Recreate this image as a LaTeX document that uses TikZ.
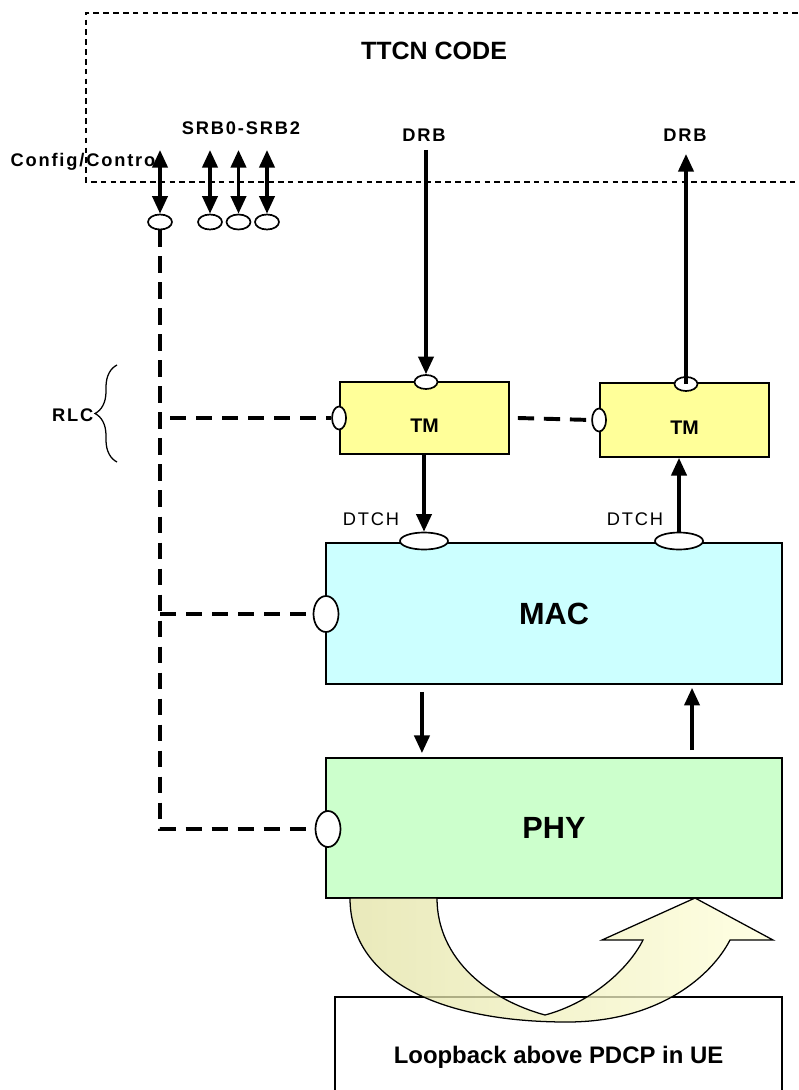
\documentclass[tikz,border=0pt]{standalone}
\usepackage{fontspec}
\setmainfont{Liberation Sans}
\newfontfamily\spacedfont{Liberation Sans}[LetterSpace=10]
\usetikzlibrary{positioning,arrows.meta,shapes.geometric,decorations.pathreplacing}

\definecolor{tmyellow}{RGB}{255,255,153}
\definecolor{maccyan}{RGB}{204,255,255}
\definecolor{phygreen}{RGB}{204,255,204}
\definecolor{loopdark}{RGB}{226,226,164}
\definecolor{looplight}{RGB}{255,255,218}

\begin{document}
\begin{tikzpicture}[
    x=0.025cm, y=-0.025cm,
    tag/.style={font=\spacedfont\bfseries\fontsize{13}{15}\selectfont, inner sep=1pt},
    chan/.style={font=\spacedfont\fontsize{13}{15}\selectfont, inner sep=1pt},
    tmbox/.style={draw, line width=1.3pt, fill=tmyellow, minimum width=4.225cm,
                  minimum height=1.82cm, text height=0.725cm, text depth=0pt,
                  font=\bfseries\fontsize{14}{16}\selectfont},
    layer/.style={draw, line width=1.3pt, minimum width=11.4cm, minimum height=3.52cm,
                  font=\bfseries\fontsize{21.8}{24}\selectfont},
    port/.style={ellipse, draw, fill=white, line width=1.2pt, inner sep=0pt},
    hport/.style={port, minimum width=0.6cm, minimum height=0.375cm},
    vport/.style={port, minimum width=0.35cm, minimum height=0.575cm},
    sig/.style={line width=2.4pt, -{Triangle[length=4.4mm,width=3.8mm]}},
    dsig/.style={line width=2.4pt, {Triangle[length=4.4mm,width=3.8mm]}-{Triangle[length=4.4mm,width=3.8mm]}},
    ctrl/.style={line width=2.8pt, dash pattern=on 11.5pt off 7pt},
    ttcnline/.style={line width=0.8pt, dash pattern=on 4pt off 3pt},
  ]

  \clip (0,0) rectangle (798,1090);

  % ---------- TTCN area ----------
  \draw[ttcnline] (798,13) -| (86,182) -- (798,182);
  \node[font=\bfseries\fontsize{17.8}{20}\selectfont] (ttcn) at (434,51) {TTCN CODE};

  \node[tag, anchor=east] (cfglbl) at (157,162) {Config/Contro};
  \node[tag] (srblbl) at (241,128) {SRB0-SRB2};
  \node[tag] (drbinlbl) at (424,135) {DRB};
  \node[tag] (drboutlbl) at (685,135) {DRB};

  % ---------- config / SRB ports ----------
  \node[hport] (cfgport) at (160,222) {};
  \coordinate (cfgtop) at (160,150);
  \draw[dsig] (cfgtop) -- (cfgport.north);

  \foreach \i/\x in {0/210,1/238.5,2/267} {
    \node[hport] (srbport\i) at (\x,222) {};
    \coordinate (srbtop\i) at (\x,150);
    \draw[dsig] (srbtop\i) -- (srbport\i.north);
  }

  % ---------- RLC: two TM entities ----------
  \node[tmbox] (tmA) at (424.5,418) {TM};
  \node[tmbox, minimum height=1.85cm] (tmB) at (684.5,420) {TM};

  \node[port, minimum width=0.575cm, minimum height=0.35cm] (tmAtop) at (426,382) {};
  \node[port, minimum width=0.575cm, minimum height=0.35cm] (tmBtop) at (686,384) {};
  \node[vport] (tmAleft) at (tmA.west) {};
  \node[vport] (tmBleft) at (tmB.west) {};

  \coordinate (drbin) at (426,150);
  \coordinate (drbout) at (686,154);
  \draw[sig] (drbin) -- (tmAtop.north);
  \draw[sig] (tmBtop.center) -- (drbout);

  \draw[ctrl] ([xshift=0.2cm]tmA.east) -- (tmBleft.west);

  \draw[decorate, decoration={brace, amplitude=0.55cm}, line width=0.9pt]
    (117,462) -- (117,365);
  \node[tag, anchor=east] (rlclbl) at (95,415) {RLC};

  % ---------- MAC ----------
  \node[layer, fill=maccyan] (mac) at (554,613.5) {MAC};
  \node[port, minimum width=1.2cm, minimum height=0.425cm] (dtchA) at (424,541) {};
  \node[port, minimum width=1.2cm, minimum height=0.425cm] (dtchB) at (679,541) {};
  \node[chan] (dtchAlbl) at (371,519) {DTCH};
  \node[chan] (dtchBlbl) at (635,519) {DTCH};

  \draw[sig] (dtchA.north |- tmA.south) -- (dtchA.north);
  \draw[sig] (dtchB.north) -- (dtchB.north |- tmB.south);

  % ---------- PHY ----------
  \node[layer, fill=phygreen, minimum height=3.5cm] (phy) at (554,828) {PHY};

  \draw[sig] ([xshift=-3.3cm,yshift=-0.175cm]mac.south) -- ([xshift=-3.3cm,yshift=0.1cm]phy.north);
  \draw[sig] ([xshift=3.45cm,yshift=0.175cm]phy.north) -- ([xshift=3.45cm,yshift=-0.075cm]mac.south);

  \node[port, minimum width=0.625cm, minimum height=0.9cm] (macport) at (326,614) {};
  \node[port, minimum width=0.625cm, minimum height=0.9cm] (phyport) at (328,829) {};

  % ---------- config/control line ----------
  \draw[ctrl] (cfgport.south) |- (phyport.west);
  \draw[ctrl] ([xshift=0.25cm]cfgport.south |- tmAleft.west) -- (tmAleft.west);
  \draw[ctrl] (cfgport.south |- macport.west) -- (macport.west);

  % ---------- loopback in the UE ----------
  \node[draw, line width=1.3pt, minimum width=11.175cm, minimum height=3cm,
        font=\bfseries\fontsize{17}{19}\selectfont] (loopbox) at (558.5,1057)
    {Loopback above PDCP in UE};

  \path[draw, line width=0.9pt, left color=loopdark, right color=looplight, fill opacity=0.75]
    (350,898) .. controls (350,980) and (440,1022) .. (567,1022)
    .. controls (660,1022) and (712,975) .. (730,940)
    -- (773,940) -- (695,898) -- (602,940) -- (643,940)
    .. controls (628,970) and (590,1003) .. (545,1015)
    .. controls (490,1000) and (437,960) .. (437,898) -- cycle;

\end{tikzpicture}
\end{document}
